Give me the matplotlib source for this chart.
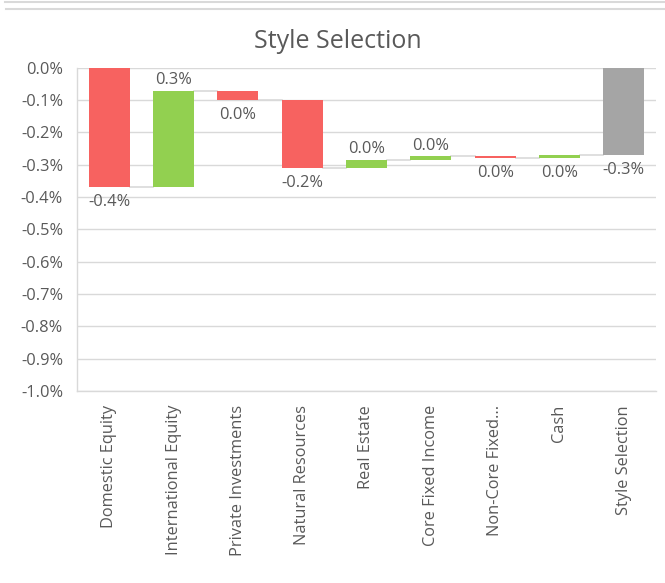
import matplotlib
matplotlib.use("Agg")
import matplotlib.pyplot as plt
from matplotlib.lines import Line2D
import numpy as np

# Style-selection attribution, in percent
categories = ["Domestic Equity", "International Equity", "Private Investments",
              "Natural Resources", "Real Estate", "Core Fixed Income",
              "Non-Core Fixed...", "Cash", "Style Selection"]
changes = [-0.370, 0.298, -0.028, -0.211, 0.027, 0.010, -0.005, 0.008]
# where each value label sits relative to its bar
label_below = [True, False, True, True, False, False, True, True, True]
y_ticks = [0.0, -0.1, -0.2, -0.3, -0.4, -0.5, -0.6, -0.7, -0.8, -0.9, -1.0]

RED = "#F76260"
GREEN = "#92D050"
GREY = "#A5A5A5"
TEXT = "#595959"
LINE = "#D9D9D9"

plt.rcParams["font.family"] = ["Open Sans", "DejaVu Sans"]
FS = 11.8

fig = plt.figure(figsize=(6.65, 5.83), dpi=100)
ax = fig.add_axes([77 / 665, 1 - 391 / 583, 579 / 665, 323.3 / 583])

total = float(np.sum(changes))
ends = np.cumsum(changes)
starts = np.concatenate([[0.0], ends[:-1]])

bottoms = list(starts) + [0.0]
tops = list(ends) + [total]
values = list(changes) + [total]
colors = [GREEN if c > 0 else RED for c in changes] + [GREY]

x = np.arange(len(categories))
width = 0.64
heights = [t - b for b, t in zip(bottoms, tops)]
ax.bar(x, heights, bottom=bottoms, width=width, color=colors, zorder=3)

# connectors between consecutive bars
for i in range(len(categories) - 1):
    level = tops[i]
    ax.plot([x[i] + width / 2, x[i + 1] - width / 2], [level, level],
            color=LINE, lw=1.2, zorder=2)


def fmt(v):
    s = f"{v:.1f}%"
    return "0.0%" if s == "-0.0%" else s


for i, v in enumerate(values):
    lo = min(bottoms[i], tops[i])
    hi = max(bottoms[i], tops[i])
    if label_below[i]:
        ax.annotate(fmt(v), (x[i], lo), xytext=(0, -5), textcoords="offset points",
                    ha="center", va="top", fontsize=FS, color=TEXT)
    else:
        ax.annotate(fmt(v), (x[i], hi), xytext=(0, 2), textcoords="offset points",
                    ha="center", va="bottom", fontsize=FS, color=TEXT)

ax.set_xlim(-0.5, len(categories) - 0.5)
ax.set_ylim(-1.0, 0.0)
ax.set_yticks(y_ticks)
ax.set_yticklabels([f"{t:.1f}%" for t in y_ticks], fontsize=FS, color=TEXT)
ax.set_xticks(x)
ax.set_xticklabels(categories, rotation=90, fontsize=FS, color=TEXT)
ax.tick_params(axis="both", length=0)
ax.tick_params(axis="x", pad=10)
ax.tick_params(axis="y", pad=10)
ax.grid(axis="y", color=LINE, lw=1, zorder=0)
for side in ["top", "right"]:
    ax.spines[side].set_visible(False)
for side in ["left", "bottom"]:
    ax.spines[side].set_color(LINE)
    ax.spines[side].set_linewidth(1)

fig.text(338 / 665, 1 - 41 / 583, "Style Selection", ha="center", va="center",
         fontsize=18, color=TEXT)

# frame lines along the top edge
fig.add_artist(Line2D([5 / 665, 1], [1 - 1.5 / 583, 1 - 1.5 / 583],
                      color=LINE, lw=1.5, transform=fig.transFigure))
fig.add_artist(Line2D([6 / 665, 1], [1 - 8.5 / 583, 1 - 8.5 / 583],
                      color=LINE, lw=1.5, transform=fig.transFigure))

fig.savefig("out.png", dpi=100)
